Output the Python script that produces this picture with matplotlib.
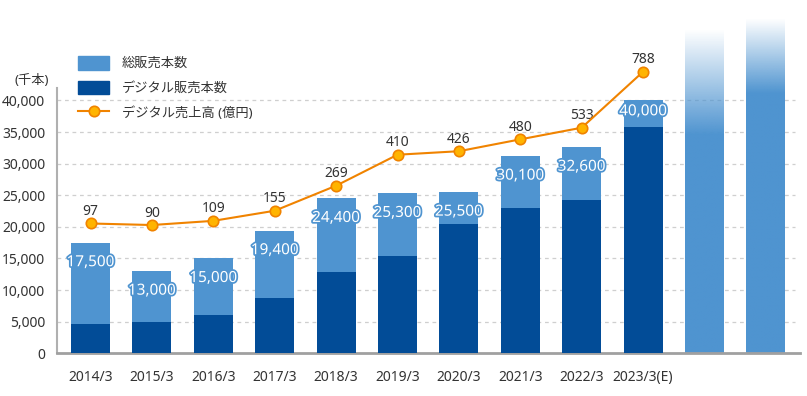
import numpy as np
import matplotlib
matplotlib.use("Agg")
import matplotlib.pyplot as plt
from matplotlib.patches import Patch
from matplotlib.lines import Line2D
import matplotlib.patheffects as pe

plt.rcParams['font.family'] = ['Noto Sans', 'Noto Sans CJK JP', 'DejaVu Sans']

# data
years = ['2014/3', '2015/3', '2016/3', '2017/3', '2018/3',
         '2019/3', '2020/3', '2021/3', '2022/3', '2023/3(E)']
total_units = [17500, 13000, 15000, 19400, 24500, 25300, 25500, 31200, 32600, 40100]
total_text = ['17,500', '13,000', '15,000', '19,400', '24,400',
              '25,300', '25,500', '30,100', '32,600', '40,000']
digital_units = [4700, 4900, 6000, 8800, 12900, 15400, 20500, 23000, 24300, 35800]
digital_sales = [97, 90, 109, 155, 269, 410, 426, 480, 533, 788]
# two faded "future" bars (top of fade, start of solid colour)
fade_top = [51200, 53000]
fade_solid = [34600, 41200]

light = '#4f94d0'
dark = '#024c97'
orange = '#f08300'
gold = '#ffb400'
txt = '#333333'

fig = plt.figure(figsize=(8.07, 3.96), dpi=100)
ax = fig.add_axes([57 / 807, 42.7 / 396, 743 / 807, 353.3 / 396])

n = len(years)
x = np.arange(n)
w = 0.635

ax.bar(x, total_units, w, color=light, zorder=2)
ax.bar(x, digital_units, w, color=dark, zorder=3)

# faded bars
for i in range(len(fade_top)):
    xi = n + i
    top = fade_top[i]
    ys = np.linspace(0, top, 300)
    alpha = np.clip((top - ys) / (top - fade_solid[i]), 0, 1)
    img = np.zeros((300, 1, 4))
    img[:, 0, :3] = matplotlib.colors.to_rgb(light)
    img[:, 0, 3] = alpha
    ax.imshow(img, extent=(xi - w / 2, xi + w / 2, 0, top), origin='lower',
              aspect='auto', zorder=2, interpolation='bilinear')

ax.set_xlim(-0.5456, 11.555)
ax.set_ylim(0, 55900)

# bar labels
for i in range(n):
    off = -8.6 if i == n - 1 else -14.4
    ax.annotate(total_text[i], (x[i], total_units[i]), xytext=(0, off),
                textcoords='offset points', ha='center', va='center',
                fontsize=11, color='white', zorder=5,
                fontweight='bold' if i == n - 1 else 'normal',
                path_effects=[pe.withStroke(linewidth=2.5, foreground=light)])

# grid
ax.set_yticks(np.arange(0, 40001, 5000))
ax.set_yticklabels([f"{v:,}" for v in range(0, 40001, 5000)])
for v in range(5000, 40001, 5000):
    ax.axhline(v, xmin=0, xmax=738 / 743, color='#cfcfcf', lw=0.9,
               ls=(0, (3, 3)), zorder=1)

ax.set_xticks(x)
ax.set_xticklabels(years)
ax.tick_params(axis='both', length=0, labelsize=10, labelcolor=txt)
ax.tick_params(axis='x', pad=12)
ax.tick_params(axis='y', pad=8.6)

for s in ['top', 'right']:
    ax.spines[s].set_visible(False)
ax.spines['left'].set_bounds(0, 42000)
ax.spines['left'].set_color('#b0b0b0')
ax.spines['left'].set_linewidth(1.5)
ax.spines['bottom'].set_color('#a0a0a0')
ax.spines['bottom'].set_linewidth(2)

# line on a secondary scale
ax2 = ax.twinx()
ax2.set_ylim(-493.9, 1114.3)
ax2.axis('off')
ax2.plot(x, digital_sales, color=orange, lw=1.5, marker='o', ms=7.5,
         mfc=gold, mec=orange, mew=1.2, zorder=6)
for i in range(n):
    ax2.annotate(str(digital_sales[i]), (x[i], digital_sales[i]), xytext=(0, 8.6),
                 textcoords='offset points', ha='center', va='center',
                 fontsize=10, color=txt)

fig.text(32 / 807, 1 - 80.7 / 396, '(千本)', ha='center', va='center',
         fontsize=9.5, color=txt)

handles = [Patch(color=light), Patch(color=dark),
           Line2D([], [], color=orange, lw=1.5, marker='o', ms=7.5,
                  mfc=gold, mec=orange, mew=1.2)]
labels = ['総販売本数', 'デジタル販売本数', 'デジタル売上高 (億円)']
leg = fig.legend(handles, labels, loc='upper left',
                 bbox_to_anchor=(78 / 807, 1 - 56 / 396), frameon=False,
                 fontsize=9.5, handlelength=2.35, handleheight=1.2,
                 handletextpad=0.96, labelspacing=0.8, borderpad=0,
                 borderaxespad=0)
for t in leg.get_texts():
    t.set_color(txt)

fig.savefig('out.png', dpi=100)
